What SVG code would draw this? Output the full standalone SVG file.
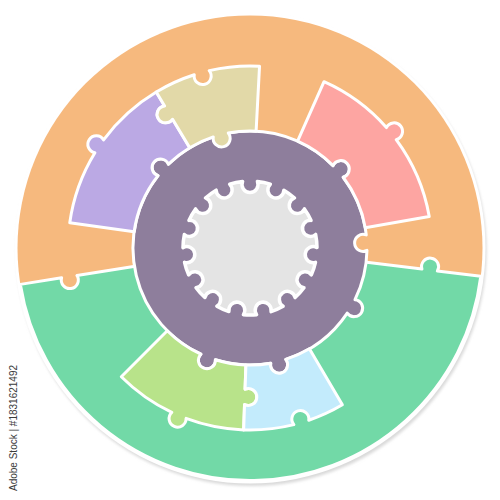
<svg xmlns="http://www.w3.org/2000/svg" width="500" height="500" viewBox="0 0 500 500">
<defs>
<style>
.pc{stroke:#ffffff;stroke-width:3;stroke-linejoin:round}
.orange{fill:#F6B97E}
.green{fill:#72D9A7}
.purple{fill:#8E7E9C}
.gray{fill:#E4E4E4;stroke:#ffffff;stroke-width:3.5;stroke-linejoin:round}
.lav{fill:#BBA9E4}
.khaki{fill:#E2D9A8}
.pink{fill:#FDA5A2}
.lgreen{fill:#B8E38A}
.blue{fill:#C3EBFC}
.credit{font-family:"Liberation Sans",Arial,sans-serif;font-size:10px;fill:#3a3a3a}
</style>
<filter id="sh" x="-10%" y="-10%" width="120%" height="120%">
<feGaussianBlur stdDeviation="1.5"/>
</filter>
</defs>
<rect width="500" height="500" fill="#ffffff"/>
<circle cx="251.5" cy="251" r="235" fill="#d9d9d9" filter="url(#sh)"/>
<circle cx="250" cy="248" r="235.5" fill="#ffffff"/>
<g transform="translate(250,248)">
<g id="outer-orange"><circle class="orange" r="232.5"/></g>
<g id="outer-green"><path class="pc green" d="M0,0 L171.96,21.11 A8.5,8.5 0 1 1 187.34,23.00 L230.77,28.33 A232.5,232.5 0 0 1 -229.64,36.37 L-188.40,29.84 A8.5,8.5 0 1 0 -173.10,27.42 Z"/></g>
<g id="ring-purple"><path class="pc purple" d="M104.97,51.67 A8.5,8.5 0 1 1 97.23,65.07 A117,117 0 0 1 35.75,111.40 A8.5,8.5 0 1 1 20.73,115.15 A117,117 0 0 1 -34.61,111.76 A8.5,8.5 0 1 1 -49.06,106.22 A117,117 0 0 1 -91.94,-72.37 A8.5,8.5 0 1 1 -81.58,-83.87 A117,117 0 0 1 83.03,-82.43 A8.5,8.5 0 1 1 93.19,-70.75 A117,117 0 0 1 116.27,-13.03 A8.5,8.5 0 1 0 116.97,2.44 A117,117 0 0 1 104.97,51.67 Z"/></g>
<g id="center-gear"><path class="gray" d="M-7.40,-66.59 A8,8 0 1 0 7.40,-66.59 A67,67 0 0 1 20.32,-63.84 A8,8 0 1 0 33.85,-57.82 A67,67 0 0 1 44.53,-50.06 A8,8 0 1 0 54.44,-39.06 A67,67 0 0 1 61.05,-27.62 A8,8 0 1 0 65.62,-13.54 A67,67 0 0 1 67.00,-0.40 A8,8 0 1 0 65.45,14.32 A67,67 0 0 1 61.37,26.89 A8,8 0 1 0 53.97,39.71 A67,67 0 0 1 45.13,49.52 A8,8 0 1 0 33.15,58.22 A67,67 0 0 1 21.08,63.60 A8,8 0 1 0 6.61,66.67 A67,67 0 0 1 -6.61,66.67 A8,8 0 1 0 -21.08,63.60 A67,67 0 0 1 -33.15,58.22 A8,8 0 1 0 -45.13,49.52 A67,67 0 0 1 -53.97,39.71 A8,8 0 1 0 -61.37,26.89 A67,67 0 0 1 -65.45,14.32 A8,8 0 1 0 -67.00,-0.40 A67,67 0 0 1 -65.62,-13.54 A8,8 0 1 0 -61.05,-27.62 A67,67 0 0 1 -54.44,-39.06 A8,8 0 1 0 -44.53,-50.06 A67,67 0 0 1 -33.85,-57.82 A8,8 0 1 0 -20.32,-63.84 A67,67 0 0 1 -7.40,-66.59 Z"/></g>
<g id="piece-lavender"><path class="pc lav" d="M-180.23,-25.33 A182,182 0 0 1 -155.08,-95.26 A8.5,8.5 0 1 1 -146.42,-108.11 A182,182 0 0 1 -93.74,-156.00 L-85.37,-142.07 A8.5,8.5 0 1 0 -77.39,-128.79 L-60.26,-100.29 A117,117 0 0 0 -81.58,-83.87 A8.5,8.5 0 1 0 -91.94,-72.37 A117,117 0 0 0 -115.86,-16.28 Z"/></g>
<g id="piece-khaki"><path class="pc khaki" d="M-93.74,-156.00 A182,182 0 0 1 -55.76,-173.25 A8.5,8.5 0 1 0 -40.82,-177.36 A182,182 0 0 1 9.53,-181.75 L6.12,-116.84 A117,117 0 0 0 -21.74,-114.97 A8.5,8.5 0 1 1 -36.72,-111.09 A117,117 0 0 0 -60.26,-100.29 L-77.39,-128.79 A8.5,8.5 0 1 1 -85.37,-142.07 Z"/></g>
<g id="piece-pink"><path class="pc pink" d="M74.03,-166.27 A182,182 0 0 1 136.44,-120.45 A8.5,8.5 0 1 1 146.19,-108.42 A182,182 0 0 1 179.24,-31.60 L115.22,-20.32 A117,117 0 0 0 93.19,-70.75 A8.5,8.5 0 1 0 83.03,-82.43 A117,117 0 0 0 47.59,-106.89 Z"/></g>
<g id="piece-lightgreen"><path class="pc lgreen" d="M-6.35,181.89 A182,182 0 0 1 -63.92,170.41 A8.5,8.5 0 1 1 -78.18,164.36 A182,182 0 0 1 -128.69,128.69 L-82.73,82.73 A117,117 0 0 0 -49.06,106.22 A8.5,8.5 0 1 0 -34.61,111.76 A117,117 0 0 0 -4.08,116.93 L-4.93,141.17 A8.5,8.5 0 1 1 -5.47,156.65 Z"/></g>
<g id="piece-blue"><path class="pc blue" d="M92.37,156.82 A182,182 0 0 1 58.77,172.25 A8.5,8.5 0 1 0 43.91,176.62 A182,182 0 0 1 -6.35,181.89 L-5.47,156.65 A8.5,8.5 0 1 0 -4.93,141.17 L-4.08,116.93 A117,117 0 0 0 20.73,115.15 A8.5,8.5 0 1 0 35.75,111.40 A117,117 0 0 0 59.38,100.81 Z"/></g>
</g>
<text class="credit" transform="translate(17,491) rotate(-90)">Adobe Stock | #1831621492</text>
</svg>
